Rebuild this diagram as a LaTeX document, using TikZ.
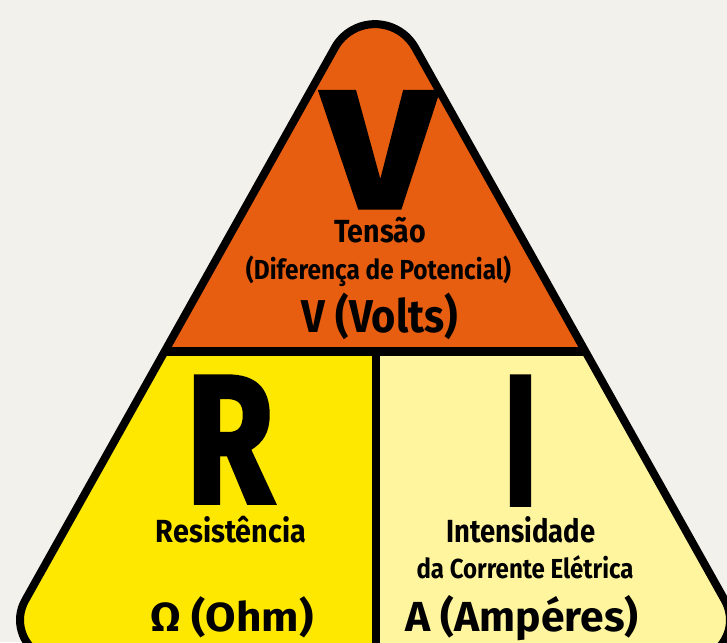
\documentclass[tikz,border=0pt]{standalone}
\usepackage{fontspec}
\setmainfont{Fira Sans}
\newfontfamily\heavy[BoldFeatures={FakeBold=2}]{Fira Sans}
\usepackage{graphicx}
\definecolor{bgc}{HTML}{F3F1EC}
\definecolor{orangec}{HTML}{E75E10}
\definecolor{yellowc}{HTML}{FFE800}
\definecolor{lightc}{HTML}{FFF59E}
\begin{document}
\begin{tikzpicture}[x=1pt,y=-1pt,
  lbl/.style={anchor=base,inner sep=0pt,text=black},
  big/.style={anchor=base,inner sep=0pt,text=black,font=\heavy\bfseries},
  rim/.style={line width=8pt,draw=black,line join=round},
  divider/.style={draw=black}
]
\useasboundingbox (0,0) rectangle (727,642);
\clip (0,0) rectangle (727,642);
\fill[bgc] (0,0) rectangle (727,642);
% tangent points of the rounded triangle (centre line of the rim)
\coordinate (t1) at (334.9,47.6);
\coordinate (t2) at (415.1,47.6);
\coordinate (l1) at (25.1,600.5);
\coordinate (b2) at (690,660);
\coordinate (hl) at (0,351);
\coordinate (hr) at (727,351);
\coordinate (vt) at (376,351);
\coordinate (vb) at (376,700);
\def\triangpath{(t1) -- (l1) arc[start angle=209.2, end angle=90, radius=40]
  -- (b2) arc[start angle=90, end angle=-29.2, radius=40]
  -- (t2) arc[start angle=-29.3, end angle=-150.7, radius=46] -- cycle}
\begin{scope}
  \clip \triangpath;
  \fill[orangec] (0,-40) rectangle (727,351);
  \fill[yellowc] (-20,351) rectangle (376,700);
  \fill[lightc] (376,351) rectangle (760,700);
  \draw[divider,line width=9pt] (hl) -- (hr);
  \draw[divider,line width=8pt] (vt) -- (vb);
\end{scope}
\draw[rim] \triangpath;

\node[big,font=\heavy\bfseries\fontsize{168}{168}\selectfont] (bigV) at (379,208) {\resizebox{112pt}{\height}{V}};
\node[big,font=\heavy\bfseries\fontsize{183}{183}\selectfont] (bigR) at (230,503) {\resizebox{88pt}{\height}{R}};
\node[big,font=\heavy\bfseries\fontsize{186}{186}\selectfont] (bigI) at (520.5,505) {\scalebox{0.62}[1]{I}};

\node[lbl,font=\bfseries\fontsize{32}{32}\selectfont] (tensao) at (380,242) {\resizebox{92pt}{\height}{Tensão}};
\node[lbl,font=\bfseries\fontsize{27.5}{27.5}\selectfont] (dif) at (378.5,279) {\resizebox{265pt}{\height}{(Diferença de Potencial)}};
\node[lbl,font=\bfseries\fontsize{46}{46}\selectfont] (volts) at (380,332) {\resizebox{156pt}{\height}{V (Volts)}};

\node[lbl,font=\bfseries\fontsize{32}{32}\selectfont] (resist) at (231,542) {\resizebox{150pt}{\height}{Resistência}};
\node[lbl,font=\bfseries\fontsize{40.6}{40.6}\selectfont] (ohm) at (232,631) {\resizebox{163pt}{\height}{Ω (Ohm)}};

\node[lbl,font=\bfseries\fontsize{27.5}{27.5}\selectfont] (corr) at (525,578) {\resizebox{217pt}{\height}{da Corrente Elétrica}};
\node[lbl,font=\bfseries\fontsize{32}{32}\selectfont] (intens) at (521,542) {\resizebox{149pt}{\height}{Intensidade}};
\node[lbl,font=\bfseries\fontsize{42}{42}\selectfont] (amp) at (522,631) {\resizebox{233pt}{\height}{A (Ampéres)}};
\end{tikzpicture}
\end{document}
